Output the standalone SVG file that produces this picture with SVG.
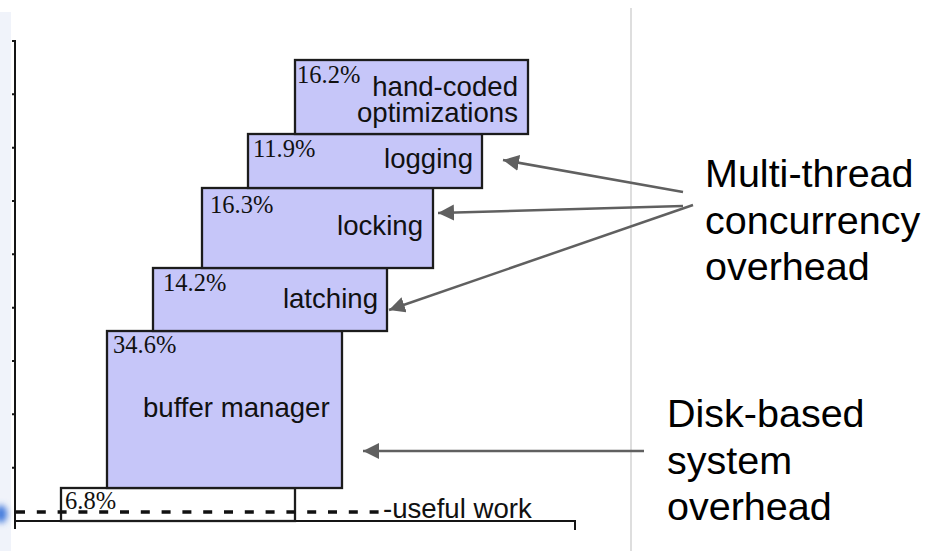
<svg xmlns="http://www.w3.org/2000/svg" width="938" height="551" viewBox="0 0 938 551">
  <style>
    .bar { fill: #c6c6f9; stroke: #1c1c1c; stroke-width: 2.3; }
    .base { fill: #ffffff; stroke: #1c1c1c; stroke-width: 2.3; }
    .pct { font-family: "Liberation Serif", "Times New Roman", serif; font-size: 24.5px; fill: #111; }
    .lbl { font-family: "Liberation Sans", Arial, sans-serif; font-size: 27.6px; fill: #111; }
    .end { text-anchor: end; }
    .note { font-family: "Liberation Sans", Arial, sans-serif; font-size: 39.5px; fill: #000; }
    .axis { stroke: #151515; stroke-width: 2; fill: none; }
    .arrow { stroke: #606060; stroke-width: 2.5; fill: none; marker-end: url(#head); }
  </style>
  <defs>
    <marker id="head" markerUnits="userSpaceOnUse" markerWidth="18" markerHeight="18" refX="16" refY="8" orient="auto">
      <path d="M0,0 L16,8 L0,16 Z" fill="#606060"/>
    </marker>
    <filter id="soft" x="-2" y="-2" width="5" height="5">
      <feGaussianBlur stdDeviation="3"/>
    </filter>
  </defs>

  <rect width="938" height="551" fill="#ffffff"/>

  <!-- pale edge band and glow at the left border -->
  <rect x="0" y="12" width="11" height="539" fill="#f0f3fa"/>
  <ellipse cx="1" cy="514" rx="6" ry="9" fill="#3f78dc" filter="url(#soft)"/>

  <!-- page separator -->
  <line x1="631" y1="8" x2="631" y2="551" stroke="#c8c8c8" stroke-width="1.2"/>

  <!-- axes -->
  <g id="axes">
    <path class="axis" d="M15,40 V529 M14,521 H575 V530"/>
    <path class="axis" stroke-width="1.6" d="M12,41 H15 M12,94.3 H15 M12,147.7 H15 M12,201 H15 M12,254.3 H15 M12,307.7 H15 M12,361 H15 M12,414.3 H15 M12,467.7 H15"/>
  </g>

  <!-- stacked bars -->
  <g id="useful-work">
    <rect class="base" x="61" y="488" width="234" height="33"/>
    <text class="pct" x="65" y="509">6.8%</text>
  </g>
  <g id="buffer-manager">
    <rect class="bar" x="107" y="331" width="235" height="157"/>
    <text class="pct" x="113" y="353">34.6%</text>
    <text class="lbl" x="143" y="417">buffer manager</text>
  </g>
  <g id="latching">
    <rect class="bar" x="153" y="268" width="234" height="63"/>
    <text class="pct" x="163" y="291">14.2%</text>
    <text class="lbl end" x="378" y="308">latching</text>
  </g>
  <g id="locking">
    <rect class="bar" x="202" y="188" width="231" height="80"/>
    <text class="pct" x="210" y="213">16.3%</text>
    <text class="lbl end" x="423" y="235">locking</text>
  </g>
  <g id="logging">
    <rect class="bar" x="248" y="134" width="234" height="54"/>
    <text class="pct" x="253" y="157">11.9%</text>
    <text class="lbl end" x="473" y="168">logging</text>
  </g>
  <g id="hand-coded">
    <rect class="bar" x="295" y="60" width="233" height="74"/>
    <text class="pct" x="297" y="83">16.2%</text>
    <text class="lbl end" x="518" y="95.5">hand-coded</text>
    <text class="lbl end" x="518" y="121.5">optimizations</text>
  </g>

  <!-- useful work baseline -->
  <g id="useful-line">
    <line x1="16" y1="512" x2="381" y2="512" stroke="#111" stroke-width="3.5" stroke-dasharray="9 11.8"/>
    <text class="lbl" x="383" y="518">-useful work</text>
  </g>

  <!-- annotations -->
  <g id="concurrency-note">
    <text class="note" x="705" y="187">Multi-thread</text>
    <text class="note" x="705" y="233.5">concurrency</text>
    <text class="note" x="705" y="280">overhead</text>
  </g>
  <g id="disk-note">
    <text class="note" x="667" y="427">Disk-based</text>
    <text class="note" x="667" y="473.5">system</text>
    <text class="note" x="667" y="520">overhead</text>
  </g>

  <g id="connectors">
    <line class="arrow" x1="683" y1="192" x2="503" y2="160"/>
    <line class="arrow" x1="683" y1="206" x2="438" y2="213"/>
    <line class="arrow" x1="693" y1="205" x2="389" y2="310"/>
    <line class="arrow" x1="644" y1="451" x2="363" y2="451"/>
  </g>
</svg>
